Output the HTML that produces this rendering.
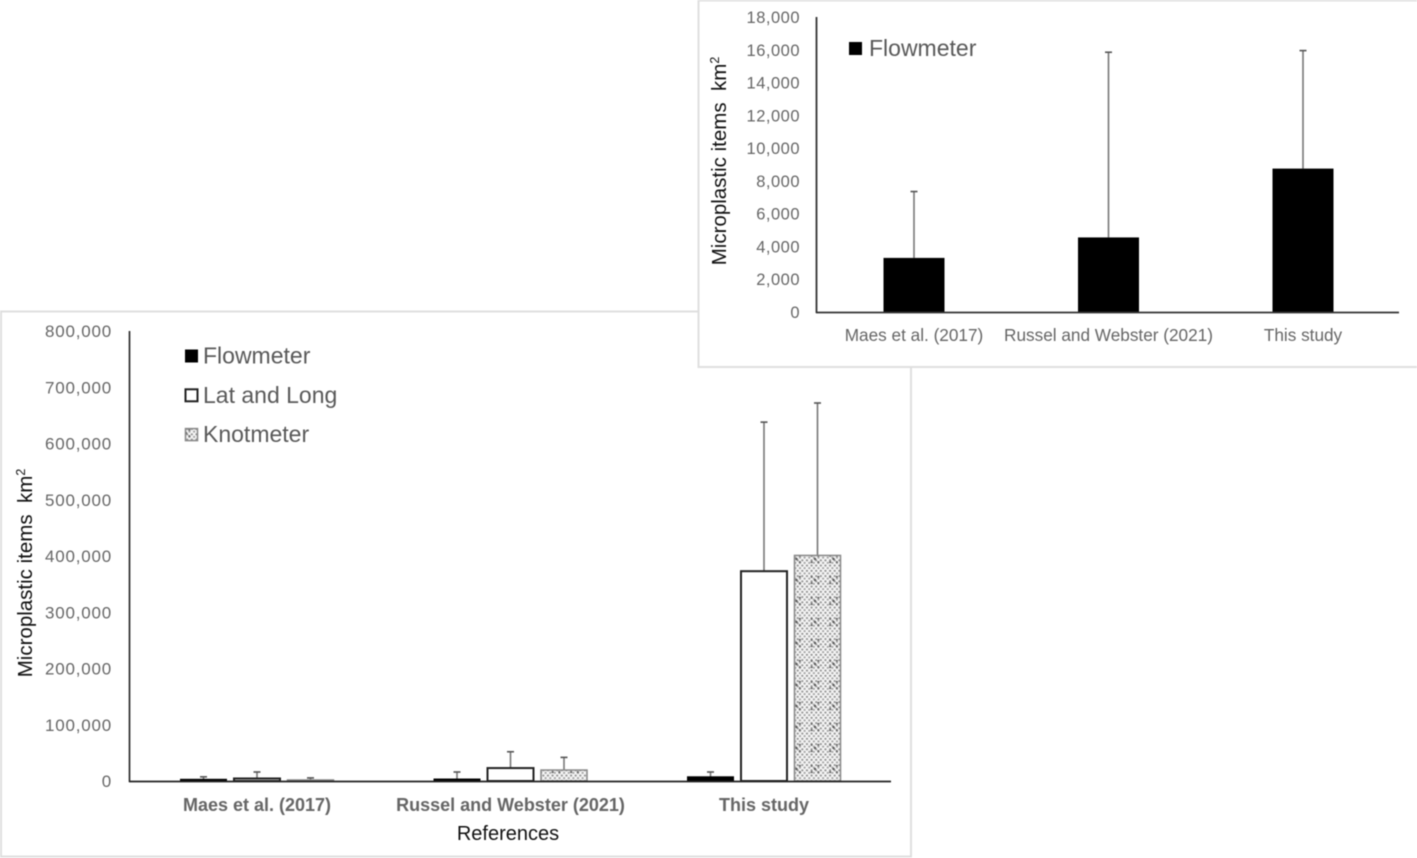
<!DOCTYPE html>
<html lang="en">
<head>
<meta charset="utf-8">
<title>Microplastic items by reference and method</title>
<style>
  html, body { margin: 0; padding: 0; background: #fff; }
  body { width: 1417px; height: 858px; overflow: hidden; }
  svg { display: block; font-family: "Liberation Sans", sans-serif; filter: blur(0.5px); }
</style>
</head>
<body>
<svg id="figure" width="1417" height="858" viewBox="0 0 1417 858" xmlns="http://www.w3.org/2000/svg">
  <defs>
    <pattern id="knot-fine" width="4.625" height="5.25" patternUnits="userSpaceOnUse">
      <rect width="4.625" height="5.25" fill="#f8f8f8"/>
      <circle cx="1.2" cy="1.3" r="1.1" fill="#8a8a8a"/>
      <circle cx="3.5" cy="3.9" r="1.1" fill="#a0a0a0"/>
    </pattern>
    <pattern id="knot-pattern" width="18.5" height="21" patternUnits="userSpaceOnUse" patternTransform="translate(805.75 569.5)">
      <rect width="18.5" height="21" fill="url(#knot-fine)"/>
      <circle cx="9.25" cy="10.5" r="1.2" fill="#555"/>
      <circle cx="5.9" cy="7.4" r="1.1" fill="#666"/>
      <circle cx="12.6" cy="7.4" r="1.1" fill="#666"/>
      <circle cx="5.9" cy="13.6" r="1.1" fill="#666"/>
      <circle cx="12.6" cy="13.6" r="1.1" fill="#666"/>
    </pattern>
  </defs>

  <rect x="1" y="311.5" width="910" height="545" fill="#fff" stroke="#dfdfdf" stroke-width="2"/>
  <g id="main-chart"></g>
  <text transform="translate(32 573) rotate(-90)" text-anchor="middle" font-size="20.5" fill="#111">Microplastic items&#160; km<tspan font-size="12.5" dy="-7">2</tspan></text>
  <text x="508" y="840" text-anchor="middle" font-size="20" fill="#111">References</text>

  <rect x="698.5" y="0.5" width="722" height="366.5" fill="#fff" stroke="#dfdfdf" stroke-width="2"/>
  <g id="inset-chart"></g>
  <text transform="translate(726 161) rotate(-90)" text-anchor="middle" font-size="20.5" fill="#111">Microplastic items&#160; km<tspan font-size="12.5" dy="-7">2</tspan></text>
</svg>

<script>
// Shared categories
const categories = ["Maes et al. (2017)", "Russel and Webster (2021)", "This study"];

// Main chart data (items per km2)
const mainTicks = [0, 100000, 200000, 300000, 400000, 500000, 600000, 700000, 800000];
const mainSeriesNames = ["Flowmeter", "Lat and Long", "Knotmeter"];
const mainFlowmeter = [3000, 3500, 7500];
const mainLatLong = [4500, 23000, 373000];
const mainKnotmeter = [1800, 19500, 401000];
const mainFlowmeterErrTop = [7400, 16000, 16000];
const mainLatLongErrTop = [16000, 52000, 638000];
const mainKnotmeterErrTop = [5500, 42000, 672000];

// Inset chart data (items per km2)
const insetTicks = [0, 2000, 4000, 6000, 8000, 10000, 12000, 14000, 16000, 18000];
const insetSeriesNames = ["Flowmeter"];
const insetFlowmeter = [3300, 4550, 8750];
const insetFlowmeterErrTop = [7350, 15850, 15950];

const SVG_NS = "http://www.w3.org/2000/svg";
function make(parent, tag, attrs, text) {
  const el = document.createElementNS(SVG_NS, tag);
  for (const k in attrs) el.setAttribute(k, attrs[k]);
  if (text !== undefined) el.textContent = text;
  parent.appendChild(el);
  return el;
}
function fmt(v) { return v.toLocaleString("en-US"); }

/* ---------- Main chart ---------- */
const mainG = document.getElementById("main-chart");
const mainY = v => 781 - (v / 800000) * 450;
const mainCat = i => 257 + i * 253.5;
const mainBarWidth = 46;
const mainBarStep = 53.5;
const mainStyles = [
  { fill: "#000", stroke: "#000", sw: 1 },
  { fill: "#fff", stroke: "#222", sw: 2 },
  { fill: "url(#knot-pattern)", stroke: "#888", sw: 1.5 }
];
const mainValues = [mainFlowmeter, mainLatLong, mainKnotmeter];
const mainErrors = [mainFlowmeterErrTop, mainLatLongErrTop, mainKnotmeterErrTop];

mainTicks.forEach(t => {
  const lab = make(mainG, "text", { x: 112, y: mainY(t) + 6, "text-anchor": "end", "font-size": 17, "letter-spacing": 0.8, fill: "#666" }, fmt(t));
  
  
});
categories.forEach((c, i) => {
  const lab = make(mainG, "text", { x: mainCat(i), y: 811, "text-anchor": "middle", "font-size": 18, "font-weight": "bold", fill: "#666" }, c);
  
  
  mainValues.forEach((series, s) => {
    const cx = mainCat(i) + (s - 1) * mainBarStep;
    const top = mainY(series[i]);
    const st = mainStyles[s];
    const errX = cx;
    const errTop = mainY(mainErrors[s][i]);
    const eLine = make(mainG, "line", { x1: errX, x2: errX, y1: top, y2: errTop, stroke: "#777", "stroke-width": 1.6 });
    
    
    const eCap = make(mainG, "line", { x1: errX - 3.5, x2: errX + 3.5, y1: errTop, y2: errTop, stroke: "#555", "stroke-width": 1.6 });
    
    
    const bar = make(mainG, "rect", { x: cx - mainBarWidth / 2, y: top, width: mainBarWidth, height: Math.max(mainY(0) - top, 0.5), fill: st.fill, stroke: st.stroke, "stroke-width": st.sw });
    
    
  });
});
const mainYAxis = make(mainG, "line", { x1: 129.5, x2: 129.5, y1: 331, y2: 782, stroke: "#222", "stroke-width": 1.6 });


const mainXAxis = make(mainG, "line", { x1: 129, x2: 891, y1: 781.5, y2: 781.5, stroke: "#222", "stroke-width": 1.8 });



mainSeriesNames.forEach((name, s) => {
  const ly = 356 + s * 39.3;
  const st = mainStyles[s];
  const sw = make(mainG, "rect", { x: 185.5, y: ly - 6, width: 12, height: 12, fill: st.fill, stroke: st.stroke, "stroke-width": st.sw });
  
  
  const t = make(mainG, "text", { x: 203, y: ly + 7.5, "font-size": 23, fill: "#595959" }, name);
  
  
});

/* ---------- Inset chart ---------- */
const insetG = document.getElementById("inset-chart");
const insetY = v => 312 - (v / 18000) * 295;
const insetCat = i => 914 + i * 194.5;
const insetBarWidth = 61;

insetTicks.forEach(t => {
  const lab = make(insetG, "text", { x: 800, y: insetY(t) + 6, "text-anchor": "end", "font-size": 16.5, "letter-spacing": 0.5, fill: "#666" }, fmt(t));
  
  
});
categories.forEach((c, i) => {
  const lab = make(insetG, "text", { x: insetCat(i), y: 341, "text-anchor": "middle", "font-size": 17.2, fill: "#666" }, c);
  
  
  const cx = insetCat(i);
  const top = insetY(insetFlowmeter[i]);
  const errTop = insetY(insetFlowmeterErrTop[i]);
  const eLine = make(insetG, "line", { x1: cx, x2: cx, y1: top, y2: errTop, stroke: "#777", "stroke-width": 1.6 });
  
  
  const eCap = make(insetG, "line", { x1: cx - 3.5, x2: cx + 3.5, y1: errTop, y2: errTop, stroke: "#555", "stroke-width": 1.6 });
  
  
  const bar = make(insetG, "rect", { x: cx - insetBarWidth / 2, y: top, width: insetBarWidth, height: insetY(0) - top, fill: "#000" });
  
  
});
const insetYAxis = make(insetG, "line", { x1: 816.5, x2: 816.5, y1: 17, y2: 313, stroke: "#333", "stroke-width": 1.8 });


const insetXAxis = make(insetG, "line", { x1: 816, x2: 1399, y1: 312.5, y2: 312.5, stroke: "#333", "stroke-width": 1.8 });



insetSeriesNames.forEach(name => {
  const sw = make(insetG, "rect", { x: 849, y: 42, width: 13, height: 13, fill: "#000" });
  
  
  const t = make(insetG, "text", { x: 869, y: 56, "font-size": 23, fill: "#595959" }, name);
  
  
});
</script>
</body>
</html>
